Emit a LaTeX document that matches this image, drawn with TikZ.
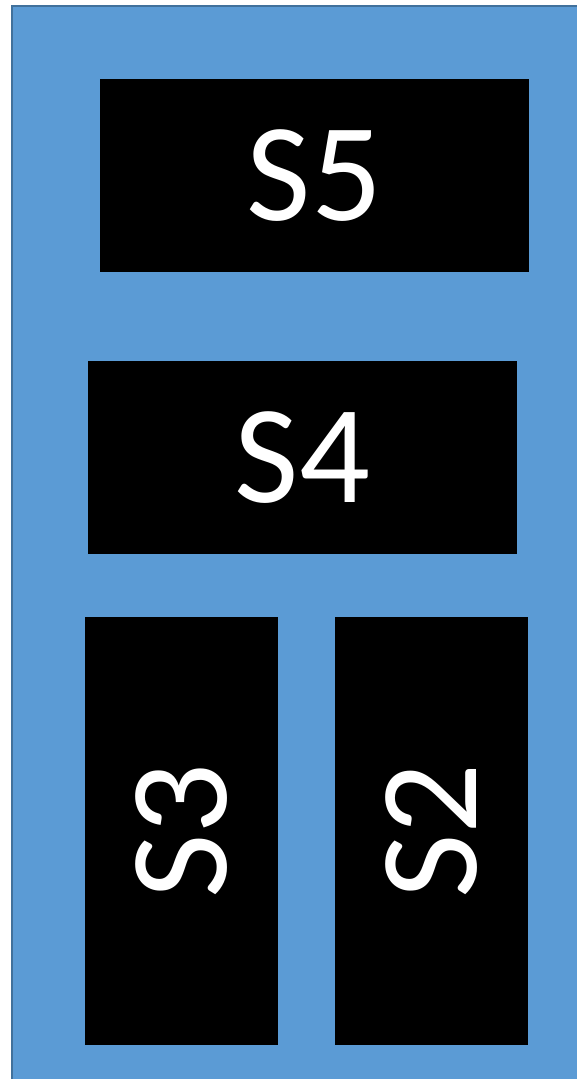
\documentclass[tikz,border=0pt]{standalone}
\usepackage{fontspec}
\setmainfont{Carlito}
\definecolor{panelblue}{HTML}{5B9BD5}
\definecolor{paneledge}{HTML}{41719C}

\begin{document}
\begin{tikzpicture}[x=1pt, y=-1pt,
  panel/.style={draw=paneledge, line width=1.5pt, fill=panelblue},
  slot/.style={fill=black, text=white, inner sep=0pt, font=\fontsize{140}{140}\selectfont},
  wide/.style={slot, minimum width=429pt, minimum height=193pt},
  tall/.style={slot, minimum width=428pt, minimum height=193pt, rotate=90}]
  \useasboundingbox (0,0) rectangle (577,1079);
  % background panel
  \path[panel] (12,6) rectangle (580,1083);
  % slots
  \node[wide] (s5) at (314.5,175.5) {S5};
  \node[wide] (s4) at (302.5,457.5) {S4};
  \node[tall] (s3) at (181.5,831)   {S3};
  \node[tall] (s2) at (431.5,831)   {S2};
\end{tikzpicture}
\end{document}
